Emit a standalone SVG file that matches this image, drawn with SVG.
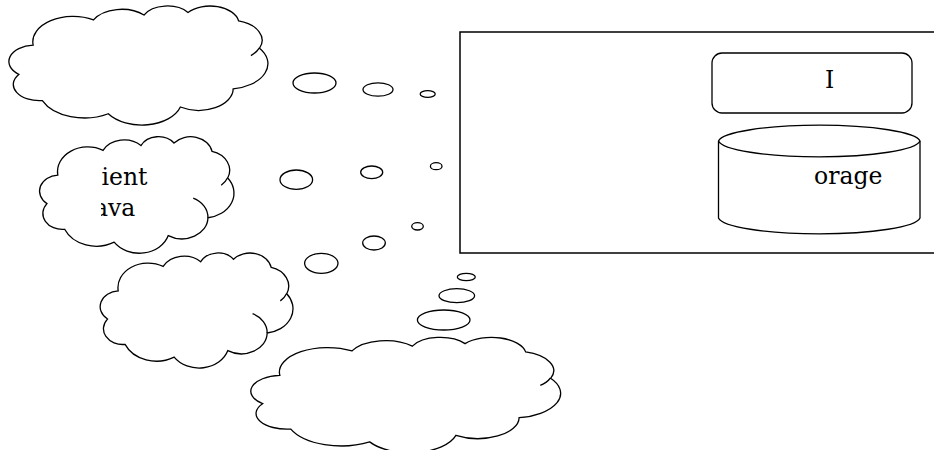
<svg xmlns="http://www.w3.org/2000/svg" width="934" height="450" viewBox="0 0 934 450">
<style>
  .ol{fill:#fff;stroke:#000;stroke-width:1.3;vector-effect:non-scaling-stroke}
  .hk{fill:none;stroke:#000;stroke-width:1.3;vector-effect:non-scaling-stroke}
  .bb{fill:#fff;stroke:#000;stroke-width:1.3}
  .bx{fill:#fff;stroke:#000;stroke-width:1.5}
  .tx{font-family:"DejaVu Serif","Liberation Serif",serif;font-size:23.5px;fill:#000}
</style>
<defs>
  <clipPath id="clipC2"><rect x="101" y="140" width="140" height="110"/></clipPath>
</defs>

<g id="server">
  <rect class="bx" x="460" y="32" width="490" height="221"/>
</g>
<g id="api">
  <rect class="bx" x="712" y="53" width="200" height="60" rx="10" ry="10" style="stroke-width:1.3"/>
  <text class="tx" x="825" y="87.5">I</text>
</g>
<g id="storage">
  <path class="bb" d="M 718.5 141 A 101 17 0 0 1 920 141 L 920 218 A 101 17 0 0 1 718.5 218 Z"/>
  <path class="hk" d="M 718.5 141 A 101 17 0 0 0 920 141"/>
  <text class="tx" x="814" y="183.5">orage</text>
</g>

<g id="cloud1">
  <g transform="translate(9.9,5.6) scale(0.2579,0.119)">
    <path class="ol" d="M 90.28 332.64 A 156.32 212.73 0 0 1 324.19 120.43 A 123.45 168.22 0 0 1 519.83 79.43 A 101.04 137.62 0 0 1 690.59 57.41 A 112.43 152.66 0 0 1 886.98 129.07 A 123.45 168.36 0 0 1 968.01 357.86 A 156.83 213.43 0 0 1 865.83 699.13 A 133.91 182.11 0 0 1 661.00 852.14 A 156.30 213.31 0 0 1 381.48 908.92 A 178.70 244.05 0 0 1 125.86 798.16 A 100.93 136.99 0 0 1 34.40 578.04 A 100.58 137.62 0 0 1 90.28 332.64 Z"/>
    <path class="hk" d="M 967.55 355.42 A 123.45 168.36 0 0 1 934.48 419.81"/>
  </g>
  <ellipse class="bb" cx="314.5" cy="83" rx="21.5" ry="10"/>
  <ellipse class="bb" cx="378" cy="89.5" rx="15" ry="6.7"/>
  <ellipse class="bb" cx="427.7" cy="94" rx="7.5" ry="3.3"/>
</g>

<g id="cloud2">
  <g transform="translate(40.3,136.3) scale(0.1936,0.1165)">
    <path class="ol" d="M 90.28 332.64 A 156.32 212.73 0 0 1 324.19 120.43 A 123.45 168.22 0 0 1 519.83 79.43 A 101.04 137.62 0 0 1 690.59 57.41 A 112.43 152.66 0 0 1 886.98 129.07 A 123.45 168.36 0 0 1 968.01 357.86 A 156.83 213.43 0 0 1 865.83 699.13 A 133.91 182.11 0 0 1 661.00 852.14 A 156.30 213.31 0 0 1 381.48 908.92 A 178.70 244.05 0 0 1 125.86 798.16 A 100.93 136.99 0 0 1 34.40 578.04 A 100.58 137.62 0 0 1 90.28 332.64 Z"/>
    <path class="hk" d="M 967.55 355.42 A 123.45 168.36 0 0 1 934.48 419.81"/>
    <path class="hk" d="M 790.02 531.34 A 133.91 182.11 0 0 1 865.83 699.13"/>
  </g>
  <g clip-path="url(#clipC2)">
    <text class="tx" x="101.5" y="184.5">ient</text>
    <text class="tx" x="94" y="215.5">ava</text>
  </g>
  <ellipse class="bb" cx="296.3" cy="179.7" rx="16.3" ry="9.7"/>
  <ellipse class="bb" cx="371.7" cy="172.3" rx="11" ry="6.3"/>
  <ellipse class="bb" cx="436.2" cy="166.2" rx="5.8" ry="3.5"/>
</g>

<g id="cloud3">
  <g transform="translate(100.9,252.6) scale(0.192,0.115)">
    <path class="ol" d="M 90.28 332.64 A 156.32 212.73 0 0 1 324.19 120.43 A 123.45 168.22 0 0 1 519.83 79.43 A 101.04 137.62 0 0 1 690.59 57.41 A 112.43 152.66 0 0 1 886.98 129.07 A 123.45 168.36 0 0 1 968.01 357.86 A 156.83 213.43 0 0 1 865.83 699.13 A 133.91 182.11 0 0 1 661.00 852.14 A 156.30 213.31 0 0 1 381.48 908.92 A 178.70 244.05 0 0 1 125.86 798.16 A 100.93 136.99 0 0 1 34.40 578.04 A 100.58 137.62 0 0 1 90.28 332.64 Z"/>
    <path class="hk" d="M 967.55 355.42 A 123.45 168.36 0 0 1 934.48 419.81"/>
    <path class="hk" d="M 790.02 531.34 A 133.91 182.11 0 0 1 865.83 699.13"/>
  </g>
  <ellipse class="bb" cx="321.3" cy="263.3" rx="16.7" ry="10"/>
  <ellipse class="bb" cx="374" cy="243" rx="11.3" ry="7"/>
  <ellipse class="bb" cx="417.5" cy="226.3" rx="5.8" ry="3.7"/>
</g>

<g id="cloud4">
  <g transform="translate(252,337) scale(0.3085,0.1154)">
    <path class="ol" d="M 90.28 332.64 A 156.32 212.73 0 0 1 324.19 120.43 A 123.45 168.22 0 0 1 519.83 79.43 A 101.04 137.62 0 0 1 690.59 57.41 A 112.43 152.66 0 0 1 886.98 129.07 A 123.45 168.36 0 0 1 968.01 357.86 A 156.83 213.43 0 0 1 865.83 699.13 A 133.91 182.11 0 0 1 661.00 852.14 A 156.30 213.31 0 0 1 381.48 908.92 A 178.70 244.05 0 0 1 125.86 798.16 A 100.93 136.99 0 0 1 34.40 578.04 A 100.58 137.62 0 0 1 90.28 332.64 Z"/>
    <path class="hk" d="M 967.55 355.42 A 123.45 168.36 0 0 1 934.48 419.81"/>
  </g>
  <ellipse class="bb" cx="443.7" cy="320" rx="26.3" ry="10"/>
  <ellipse class="bb" cx="456.8" cy="295.7" rx="17.8" ry="7"/>
  <ellipse class="bb" cx="466.3" cy="277" rx="9" ry="3.7"/>
</g>

<g id="connectors"></g>
</svg>
